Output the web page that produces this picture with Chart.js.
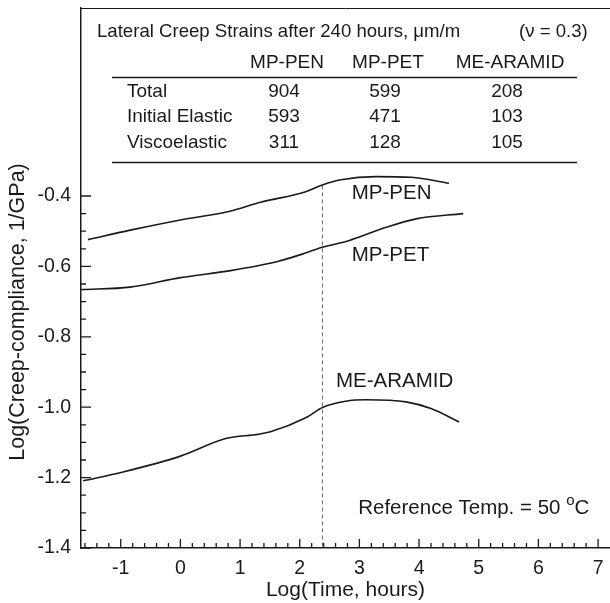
<!DOCTYPE html>
<html>
<head>
<meta charset="utf-8">
<script src="https://cdn.jsdelivr.net/npm/chart.js@4.4.1/dist/chart.umd.min.js"></script>
<style>
  html, body { margin: 0; padding: 0; background: #fff; }
</style>
</head>
<body>
<canvas id="chart" width="610" height="603"></canvas>
<script>
// curves: log(time, hours) vs log(creep compliance, 1/GPa)
const penX = [-1.55, -0.84, 0, 0.81, 1.34, 2.10, 2.39, 2.69, 3.28, 3.87, 4.50];
const penY = [-0.524, -0.497, -0.468, -0.444, -0.418, -0.388, -0.368, -0.354, -0.345, -0.347, -0.364];

const petX = [-1.66, -0.84, 0, 0.84, 1.63, 2.10, 2.39, 2.82, 3.45, 3.95, 4.74];
const petY = [-0.666, -0.659, -0.632, -0.612, -0.586, -0.562, -0.545, -0.527, -0.489, -0.465, -0.450];

const aramidX = [-1.63, -0.96, 0, 0.76, 1.31, 1.51, 2.10, 2.39, 2.77, 3.11, 3.78, 4.20, 4.67];
const aramidY = [-1.209, -1.184, -1.139, -1.089, -1.077, -1.070, -1.030, -1.000, -0.983, -0.979, -0.985, -1.004, -1.042];

// 240 hours marker
const markerX = 2.38;
const markerTop = -0.37;

const xTickLabels = [-1, 0, 1, 2, 3, 4, 5, 6, 7];
const yTickLabels = [-1.4, -1.2, -1.0, -0.8, -0.6, -0.4];

// strain table, um/m
const tableCols = ["MP-PEN", "MP-PET", "ME-ARAMID"];
const tableRows = ["Total", "Initial Elastic", "Viscoelastic"];
const totalStrain = [904, 599, 208];
const elasticStrain = [593, 471, 103];
const viscoStrain = [311, 128, 105];

const FONT = '"Liberation Sans", Arial, sans-serif';
const INK = "#1a1a1a";

function toPoints(xs, ys) {
    return xs.map((x, i) => ({ x, y: ys[i] }));
}

function curve(data) {
    return {
        data,
        borderColor: INK,
        borderWidth: 1.6,
        pointRadius: 0,
        tension: 0.4,
        cubicInterpolationMode: "monotone",
        fill: false
    };
}

const decorations = {
    id: "decorations",
    afterDraw(chart) {
        const { ctx, chartArea: area, scales: { x, y } } = chart;
        ctx.save();
        ctx.strokeStyle = INK;
        ctx.fillStyle = INK;

        // top frame line
        ctx.lineWidth = 1;
        ctx.beginPath();
        ctx.moveTo(area.left, area.top + 0.5);
        ctx.lineTo(area.right, area.top + 0.5);
        ctx.stroke();

        // inward tick marks
        ctx.lineWidth = 1.3;
        ctx.beginPath();
        for (let i = -8; i <= 35; i++) {
            const px = x.getPixelForValue(i * 0.2);
            const len = i % 5 === 0 ? 9 : 5;
            ctx.moveTo(px, area.bottom);
            ctx.lineTo(px, area.bottom - len);
        }
        for (let i = 0; i <= 20; i++) {
            const py = y.getPixelForValue(-1.4 + i * 0.05);
            const len = i % 4 === 0 ? 10 : 5;
            ctx.moveTo(area.left, py);
            ctx.lineTo(area.left + len, py);
        }
        ctx.stroke();

        // y title
        ctx.save();
        ctx.translate(18, 312);
        ctx.rotate(-Math.PI / 2);
        ctx.font = "21.5px " + FONT;
        ctx.textAlign = "center";
        ctx.textBaseline = "middle";
        ctx.fillText("Log(Creep-compliance, 1/GPa)", 0, 0);
        ctx.restore();

        // curve labels
        ctx.font = "20.5px " + FONT;
        ctx.textAlign = "center";
        ctx.textBaseline = "middle";
        ctx.fillText("MP-PEN", x.getPixelForValue(3.54), y.getPixelForValue(-0.392));
        ctx.fillText("MP-PET", x.getPixelForValue(3.52), y.getPixelForValue(-0.568));
        ctx.fillText("ME-ARAMID", x.getPixelForValue(3.59), y.getPixelForValue(-0.926));

        // reference temperature
        let tx = x.getPixelForValue(2.98);
        const ty = y.getPixelForValue(-1.286);
        ctx.textAlign = "left";
        ctx.font = "20.5px " + FONT;
        const main = "Reference Temp. = 50 ";
        ctx.fillText(main, tx, ty);
        tx += ctx.measureText(main).width;
        ctx.font = "15px " + FONT;
        ctx.fillText("o", tx, ty - 7);
        tx += ctx.measureText("o").width;
        ctx.font = "20.5px " + FONT;
        ctx.fillText("C", tx, ty);

        // strain table
        ctx.font = "18.6px " + FONT;
        ctx.textAlign = "left";
        ctx.fillText("Lateral Creep Strains after 240 hours, \u03bcm/m", 97, 32);
        ctx.fillText("(\u03bd = 0.3)", 519, 32);

        ctx.font = "19px " + FONT;
        const colX = [287, 388, 510];
        const rowY = [92, 117, 143];
        const rows = [totalStrain, elasticStrain, viscoStrain];
        ctx.textAlign = "center";
        tableCols.forEach((c, i) => ctx.fillText(c, colX[i], 63));
        rows.forEach((vals, r) => {
            ctx.textAlign = "left";
            ctx.fillText(tableRows[r], 127, rowY[r]);
            ctx.textAlign = "center";
            vals.forEach((v, i) => ctx.fillText(String(v), colX[i] - 3, rowY[r]));
        });

        ctx.lineWidth = 1.5;
        ctx.beginPath();
        ctx.moveTo(112, 77.5);
        ctx.lineTo(577, 77.5);
        ctx.moveTo(112, 162.5);
        ctx.lineTo(577, 162.5);
        ctx.stroke();

        ctx.restore();
    }
};

new Chart(document.getElementById("chart"), {
    type: "line",
    data: {
        datasets: [
            curve(toPoints(penX, penY)),
            curve(toPoints(petX, petY)),
            curve(toPoints(aramidX, aramidY)),
            {
                data: [{ x: markerX, y: markerTop }, { x: markerX, y: -1.4 }],
                borderColor: "#666",
                borderWidth: 1,
                borderDash: [4, 3],
                pointRadius: 0,
                fill: false
            }
        ]
    },
    options: {
        responsive: false,
        animation: false,
        layout: {
            padding: { left: 0, top: 8, right: 0, bottom: 0 }
        },
        plugins: {
            legend: { display: false },
            tooltip: { enabled: false }
        },
        scales: {
            x: {
                type: "linear",
                min: -1.666,
                max: 7.2,
                afterBuildTicks: (s) => { s.ticks = xTickLabels.map((value) => ({ value })); },
                afterFit: (s) => { s.height = 55; s.paddingLeft = 0; s.paddingRight = 0; },
                grid: { display: false, drawTicks: false },
                border: { display: true, color: INK, width: 1.5 },
                ticks: {
                    callback: (v) => String(v),
                    color: INK,
                    font: { family: FONT, size: 19.5 },
                    padding: 9,
                    autoSkip: false,
                    maxRotation: 0
                },
                title: {
                    display: true,
                    text: "Log(Time, hours)",
                    color: INK,
                    font: { family: FONT, size: 21 },
                    padding: { top: 0, bottom: 0 }
                }
            },
            y: {
                type: "linear",
                min: -1.4,
                max: 0.134,
                afterBuildTicks: (s) => { s.ticks = yTickLabels.map((value) => ({ value })); },
                afterFit: (s) => { s.width = 81; s.paddingTop = 0; s.paddingBottom = 0; },
                grid: { display: false, drawTicks: false },
                border: { display: true, color: INK, width: 1.5 },
                ticks: {
                    callback: (v) => v.toFixed(1),
                    color: INK,
                    font: { family: FONT, size: 19.5 },
                    padding: 10,
                    autoSkip: false
                }
            }
        }
    },
    plugins: [decorations]
});
</script>
</body>
</html>
